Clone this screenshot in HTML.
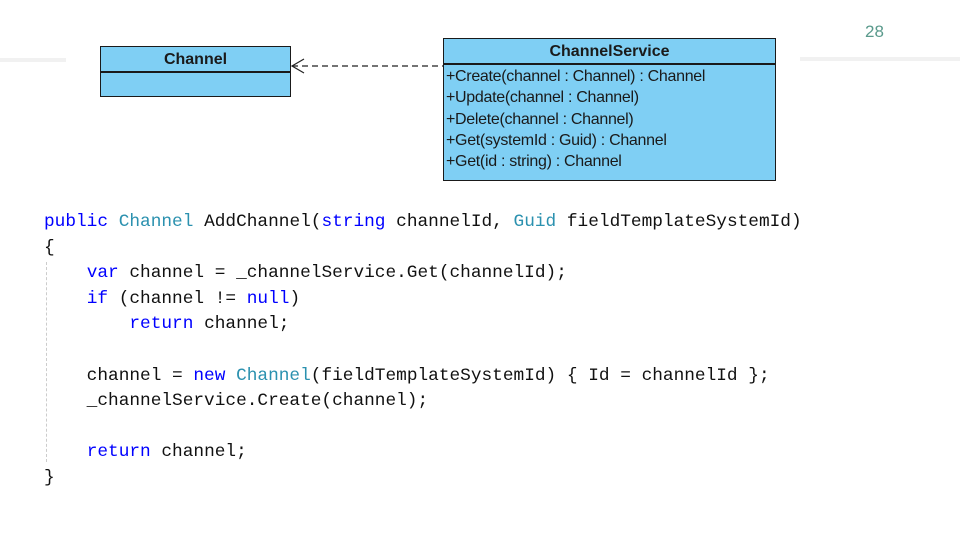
<!DOCTYPE html>
<html><head><meta charset="utf-8"><style>
body{margin:0;width:960px;height:540px;background:#fff;position:relative;overflow:hidden;font-family:"Liberation Sans",sans-serif}
.a{position:absolute}
.box{position:absolute;background:#7fcff4;border:1.5px solid #1a1a1a;box-sizing:border-box}
.t{position:absolute;white-space:nowrap;color:#1a1a1a}
.code{position:absolute;left:44px;font-family:"Liberation Mono",monospace;font-size:17.8px;white-space:pre;color:#111;line-height:25.6px}
.k{color:#0000ff}.ty{color:#2b91af}
</style></head><body>
<div class="a" style="left:0;top:58px;width:66px;height:4px;background:#f1f1f1"></div>
<div class="a" style="left:800px;top:57px;width:160px;height:4px;background:#f1f1f1"></div>
<div class="t" style="left:865px;top:22px;font-size:17px;color:#5a9a8c">28</div>

<div class="box" style="left:100px;top:46px;width:191px;height:51px"></div>
<div class="a" style="left:100px;top:71px;width:191px;height:1.5px;background:#1a1a1a"></div>
<div class="t" style="left:100px;width:191px;text-align:center;top:51px;font-size:16px;font-weight:bold">Channel</div>

<svg class="a" style="left:288px;top:55px" width="160" height="22">
<line x1="4" y1="11" x2="156" y2="11" stroke="#222" stroke-width="1.3" stroke-dasharray="6,4"/>
<polyline points="16,4 4,11 16,18" fill="none" stroke="#222" stroke-width="1.2"/>
</svg>

<div class="box" style="left:443px;top:38px;width:333px;height:143px"></div>
<div class="a" style="left:443px;top:63px;width:333px;height:1.5px;background:#1a1a1a"></div>
<div class="t" style="left:443px;width:333px;text-align:center;top:43px;font-size:16px;font-weight:bold">ChannelService</div>
<div class="t" style="left:446px;top:66px;font-size:16px;line-height:21.3px;letter-spacing:-0.3px">+Create(channel : Channel) : Channel<br>+Update(channel : Channel)<br>+Delete(channel : Channel)<br>+Get(systemId : Guid) : Channel<br>+Get(id : string) : Channel</div>

<div class="a" style="left:46px;top:262px;width:0;height:200px;border-left:1px dashed #ccc"></div>
<div class="code" style="top:210px"><span class="k">public</span> <span class="ty">Channel</span> AddChannel(<span class="k">string</span> channelId, <span class="ty">Guid</span> fieldTemplateSystemId)
{
    <span class="k">var</span> channel = _channelService.Get(channelId);
    <span class="k">if</span> (channel != <span class="k">null</span>)
        <span class="k">return</span> channel;

    channel = <span class="k">new</span> <span class="ty">Channel</span>(fieldTemplateSystemId) { Id = channelId };
    _channelService.Create(channel);

    <span class="k">return</span> channel;
}</div>
</body></html>
